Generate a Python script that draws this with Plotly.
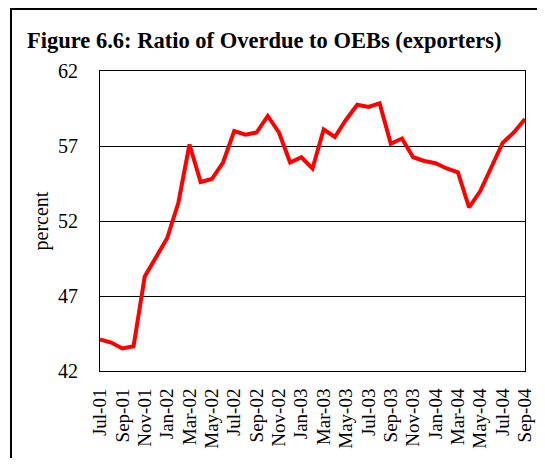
import plotly.graph_objects as go

months = ["Jul-01", "Aug-01", "Sep-01", "Oct-01", "Nov-01", "Dec-01",
          "Jan-02", "Feb-02", "Mar-02", "Apr-02", "May-02", "Jun-02",
          "Jul-02", "Aug-02", "Sep-02", "Oct-02", "Nov-02", "Dec-02",
          "Jan-03", "Feb-03", "Mar-03", "Apr-03", "May-03", "Jun-03",
          "Jul-03", "Aug-03", "Sep-03", "Oct-03", "Nov-03", "Dec-03",
          "Jan-04", "Feb-04", "Mar-04", "Apr-04", "May-04", "Jun-04",
          "Jul-04", "Aug-04", "Sep-04"]
ratio = [44.1, 43.9, 43.5, 43.65, 48.3, 49.6,
         50.85, 53.2, 57.1, 54.6, 54.8, 55.9,
         58.0, 57.75, 57.9, 59.0, 57.9, 55.9,
         56.25, 55.5, 58.1, 57.6, 58.75, 59.75,
         59.6, 59.85, 57.15, 57.5, 56.25, 56.0,
         55.85, 55.5, 55.25, 52.9, 54.0, 55.6,
         57.2, 57.9, 58.8]
tick_labels = months[::2]
y_ticks = [42, 47, 52, 57, 62]

serif = "Liberation Serif, Times New Roman, serif"

# page has an 8px body margin; figure coordinates are page - 8
W, H = 529, 450
L, T = 92, 63
PW, PH = 425, 300

fig = go.Figure()
fig.add_trace(go.Scatter(
    x=months, y=ratio, mode="lines",
    line=dict(color="#ff0000", width=4),
    showlegend=False, hoverinfo="skip",
))

fig.update_layout(
    width=W, height=H,
    margin=dict(l=L, r=W - L - PW, t=T, b=H - T - PH, autoexpand=False),
    paper_bgcolor="white", plot_bgcolor="white",
    font=dict(family=serif, color="black", size=18),
    title=dict(
        text="<b>Figure 6.6: Ratio of Overdue to OEBs (exporters)</b>",
        x=19 / W, xanchor="left", xref="container",
        y=1 - 32 / H, yanchor="middle", yref="container",
        font=dict(family=serif, size=22.5, color="black"),
    ),
    shapes=[dict(
        type="rect", xref="paper", yref="paper",
        x0=(3 - L) / PW, x1=1.3, y0=-0.7, y1=(T + PH - 1) / PH,
        line=dict(color="black", width=2), fillcolor="rgba(0,0,0,0)",
        layer="below",
    )],
)

fig.update_xaxes(
    type="category", categoryorder="array", categoryarray=months,
    range=[0, len(months) - 1], automargin=False,
    tickmode="array", tickvals=tick_labels, ticktext=tick_labels,
    tickangle=-90, tickfont=dict(family=serif, size=19, color="black"),
    showgrid=False, showline=True, linecolor="black", linewidth=1,
    mirror=True, ticks="", ticklabelstandoff=9,
    zeroline=False,
)
fig.update_yaxes(
    range=[42, 62], tickmode="array", tickvals=y_ticks, automargin=False,
    tickfont=dict(family=serif, size=20, color="black"),
    showgrid=True, gridcolor="black", gridwidth=1,
    showline=True, linecolor="black", linewidth=1, mirror=True,
    ticks="", ticklabelstandoff=17, zeroline=False,
    title=dict(text="percent", font=dict(family=serif, size=20, color="black"), standoff=4),
)

fig.write_html("out.html")
